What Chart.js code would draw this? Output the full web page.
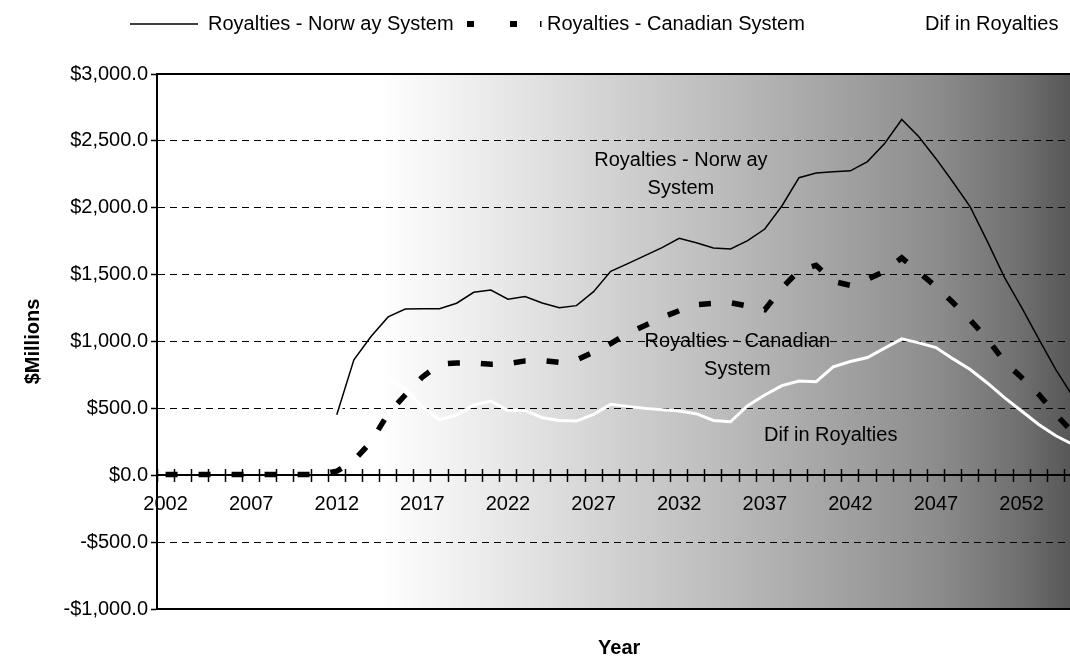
<!DOCTYPE html>
<html>
<head>
<meta charset="utf-8">
<script src="https://cdn.jsdelivr.net/npm/chart.js@4.4.0/dist/chart.umd.min.js"></script>
<style>
  html, body { margin: 0; padding: 0; background: #fff; width: 1070px; height: 658px; overflow: hidden; }
  #wrap { position: relative; width: 1070px; height: 658px; overflow: hidden; }
  #plot { position: absolute; left: 0; top: 0; }
  .key { position: absolute; top: 12px; height: 24px; line-height: 24px; white-space: nowrap;
         font: 20px "Liberation Sans", Arial, sans-serif; color: #000; }
  .swatch { position: absolute; top: 14px; }
</style>
</head>
<body>
<div id="wrap">
  <canvas id="plot" width="1090" height="658"></canvas>
  <svg class="swatch" style="left:130px" width="68" height="20"><line x1="0" y1="10" x2="68" y2="10" stroke="#000" stroke-width="1.3"/></svg>
  <div class="key" style="left:208px">Royalties - Norw ay System</div>
  <svg class="swatch" style="left:467px" width="78" height="20"><line x1="0" y1="10" x2="78" y2="10" stroke="#000" stroke-width="6" stroke-dasharray="7 36 7 23 1.5 100"/></svg>
  <div class="key" style="left:547px">Royalties - Canadian System</div>
  <svg class="swatch" style="left:858px" width="60" height="20"><line x1="0" y1="10" x2="60" y2="10" stroke="#fff" stroke-width="3"/></svg>
  <div class="key" style="left:925px">Dif in Royalties</div>
</div>
<script>
// Fiscal years on the category axis
const years = [];
for (let yr = 2002; yr <= 2055; yr++) years.push(String(yr));

// Royalties under the Norwegian regime ($ millions); no production before 2012
const norway = [
  null, null, null, null, null, null, null, null, null, null,
  452, 863, 1037, 1184, 1243, 1245, 1245, 1286, 1368, 1385,
  1316, 1336, 1288, 1253, 1268, 1373, 1525, 1582, 1642, 1702,
  1771, 1738, 1699, 1692, 1754, 1841, 2013, 2225, 2260, 2269,
  2276, 2345, 2480, 2660, 2531, 2367, 2191, 2007, 1749, 1480,
  1255, 1020, 789, 589
];

// Royalties under the Canadian regime ($ millions)
const canadian = [
  5, 5, 5, 5, 5, 5, 5, 5, 5, 5,
  30, 110, 250, 460, 600, 735, 830, 840, 840, 830,
  835, 855, 858, 845, 862, 920, 985, 1060, 1120, 1180,
  1230, 1276, 1285, 1290, 1265, 1238, 1400, 1530, 1570, 1450,
  1420, 1465, 1525, 1625, 1518, 1410, 1290, 1160, 1020, 850,
  730, 605, 455, 320
];

// Difference between the two regimes ($ millions)
const difference = [
  null, null, null, null, null, null, null, null, null, null,
  420, 750, 790, 725, 645, 510, 415, 450, 525, 555,
  485, 485, 430, 410, 405, 455, 530, 515, 500, 490,
  480, 460, 410, 400, 520, 600, 670, 705, 700, 810,
  850, 880, 950, 1020, 990, 955, 870, 790, 690, 580,
  480, 380, 295, 230
];

// Value axis ticks
const valueTicks = [-1000, -500, 0, 500, 1000, 1500, 2000, 2500, 3000];

// In-plot series captions: text lines, anchor year, anchor value
const noteLines = [["Royalties - Norw ay", "System"], ["Royalties - Canadian", "System"], ["Dif in Royalties"]];
const noteYear = [2032.1, 2035.4, 2040.85];
const noteValue = [2350, 998, 301];

const FONT = '"Liberation Sans", Arial, sans-serif';

const money = v => (v < 0 ? '-' : '') + '$' +
  Math.abs(v).toLocaleString('en-US', { minimumFractionDigits: 1, maximumFractionDigits: 1 });

// Shaded plot area: white on the left fading to dark grey on the right
const plotShade = {
  id: 'plotShade',
  beforeDraw(chart) {
    const { ctx, chartArea: a } = chart;
    const g = ctx.createLinearGradient(a.left, 0, a.right, 0);
    g.addColorStop(0.00, '#ffffff');
    g.addColorStop(0.24, '#ffffff');
    g.addColorStop(0.32, '#f1f1f1');
    g.addColorStop(0.41, '#e1e1e1');
    g.addColorStop(0.50, '#d0d0d0');
    g.addColorStop(0.61, '#bcbcbc');
    g.addColorStop(0.73, '#a4a4a4');
    g.addColorStop(0.84, '#8d8d8d');
    g.addColorStop(0.93, '#717171');
    g.addColorStop(1.00, '#525252');
    ctx.save();
    ctx.fillStyle = g;
    ctx.fillRect(a.left, a.top, a.right - a.left, a.bottom - a.top);
    ctx.restore();
  }
};

// Top and bottom edges of the plot frame
const plotFrame = {
  id: 'plotFrame',
  beforeDatasetsDraw(chart) {
    const { ctx, chartArea: a } = chart;
    ctx.save();
    ctx.strokeStyle = '#000';
    ctx.lineWidth = 2;
    ctx.beginPath();
    ctx.moveTo(a.left, a.top); ctx.lineTo(a.right, a.top);
    ctx.moveTo(a.left, a.bottom); ctx.lineTo(a.right, a.bottom);
    ctx.stroke();
    ctx.restore();
  }
};

// Series captions placed through the chart scales
const seriesNotes = {
  id: 'seriesNotes',
  afterDatasetsDraw(chart) {
    const { ctx, scales: { x, y } } = chart;
    ctx.save();
    ctx.font = '20px ' + FONT;
    ctx.fillStyle = '#000';
    ctx.textAlign = 'center';
    ctx.textBaseline = 'middle';
    noteLines.forEach((lines, k) => {
      const px = x.getPixelForValue(noteYear[k] - 2002);
      const py = y.getPixelForValue(noteValue[k]);
      lines.forEach((t, j) => ctx.fillText(t, px, py + j * 28));
    });
    ctx.restore();
  }
};

new Chart(document.getElementById('plot'), {
  type: 'line',
  data: {
    labels: years,
    datasets: [
      { label: 'Royalties - Norw ay System', data: norway, borderColor: '#000', borderWidth: 1.5,
        pointRadius: 0, tension: 0, fill: false },
      { label: 'Royalties - Canadian System', data: canadian, borderColor: '#000', borderWidth: 5.5,
        borderDash: [12, 21], borderCapStyle: 'butt', pointRadius: 0, tension: 0, fill: false },
      { label: 'Dif in Royalties', data: difference, borderColor: '#fff', borderWidth: 3,
        pointRadius: 0, tension: 0, fill: false }
    ]
  },
  options: {
    responsive: false,
    animation: false,
    events: [],
    layout: { padding: { left: 0, right: 8.5, top: 74, bottom: 0 } },
    plugins: { legend: { display: false }, tooltip: { enabled: false } },
    scales: {
      x: {
        type: 'category',
        position: { y: 0 },
        offset: true,
        grid: { display: true, offset: true, drawOnChartArea: false, tickLength: 6,
                tickWidth: 1.5, tickColor: '#000', tickBorderDash: [] },
        border: { display: true, color: '#000', width: 2 },
        ticks: { autoSkip: false, maxRotation: 0, minRotation: 0, padding: 11, color: '#000',
                 font: { family: FONT, size: 20 },
                 callback: (v, i) => (i % 5 === 0 ? years[i] : '') },
        afterFit: s => { s.height = 0; }
      },
      xUp: {
        type: 'category',
        position: { y: 0 },
        offset: true,
        grid: { display: true, offset: true, drawOnChartArea: false, tickLength: -6,
                tickWidth: 1.5, tickColor: '#000', tickBorderDash: [] },
        border: { display: false },
        ticks: { display: false },
        afterFit: s => { s.height = 0; }
      },
      xTitle: {
        type: 'category',
        position: 'bottom',
        grid: { display: false },
        border: { display: false },
        ticks: { display: false },
        title: { display: true, text: 'Year', color: '#000', padding: 0,
                 font: { family: FONT, size: 20, weight: 'bold', lineHeight: 1 } },
        afterFit: s => { s.height = 49; }
      },
      y: {
        type: 'linear',
        min: -1000,
        max: 3000,
        afterBuildTicks: s => { s.ticks = valueTicks.map(v => ({ value: v })); },
        grid: { color: '#000', lineWidth: 1, tickLength: 6, tickWidth: 1.5, tickColor: '#000',
                tickBorderDash: [] },
        border: { display: true, color: '#000', width: 2, dash: [7, 5] },
        ticks: { padding: 3, color: '#000', font: { family: FONT, size: 20 }, callback: v => money(v) },
        title: { display: true, text: '$Millions', color: '#000', padding: { top: 23, bottom: 0 },
                 font: { family: FONT, size: 20, weight: 'bold', lineHeight: 1 } },
        afterFit: s => { s.width = 157; }
      }
    }
  },
  plugins: [plotShade, plotFrame, seriesNotes]
});
</script>
</body>
</html>
